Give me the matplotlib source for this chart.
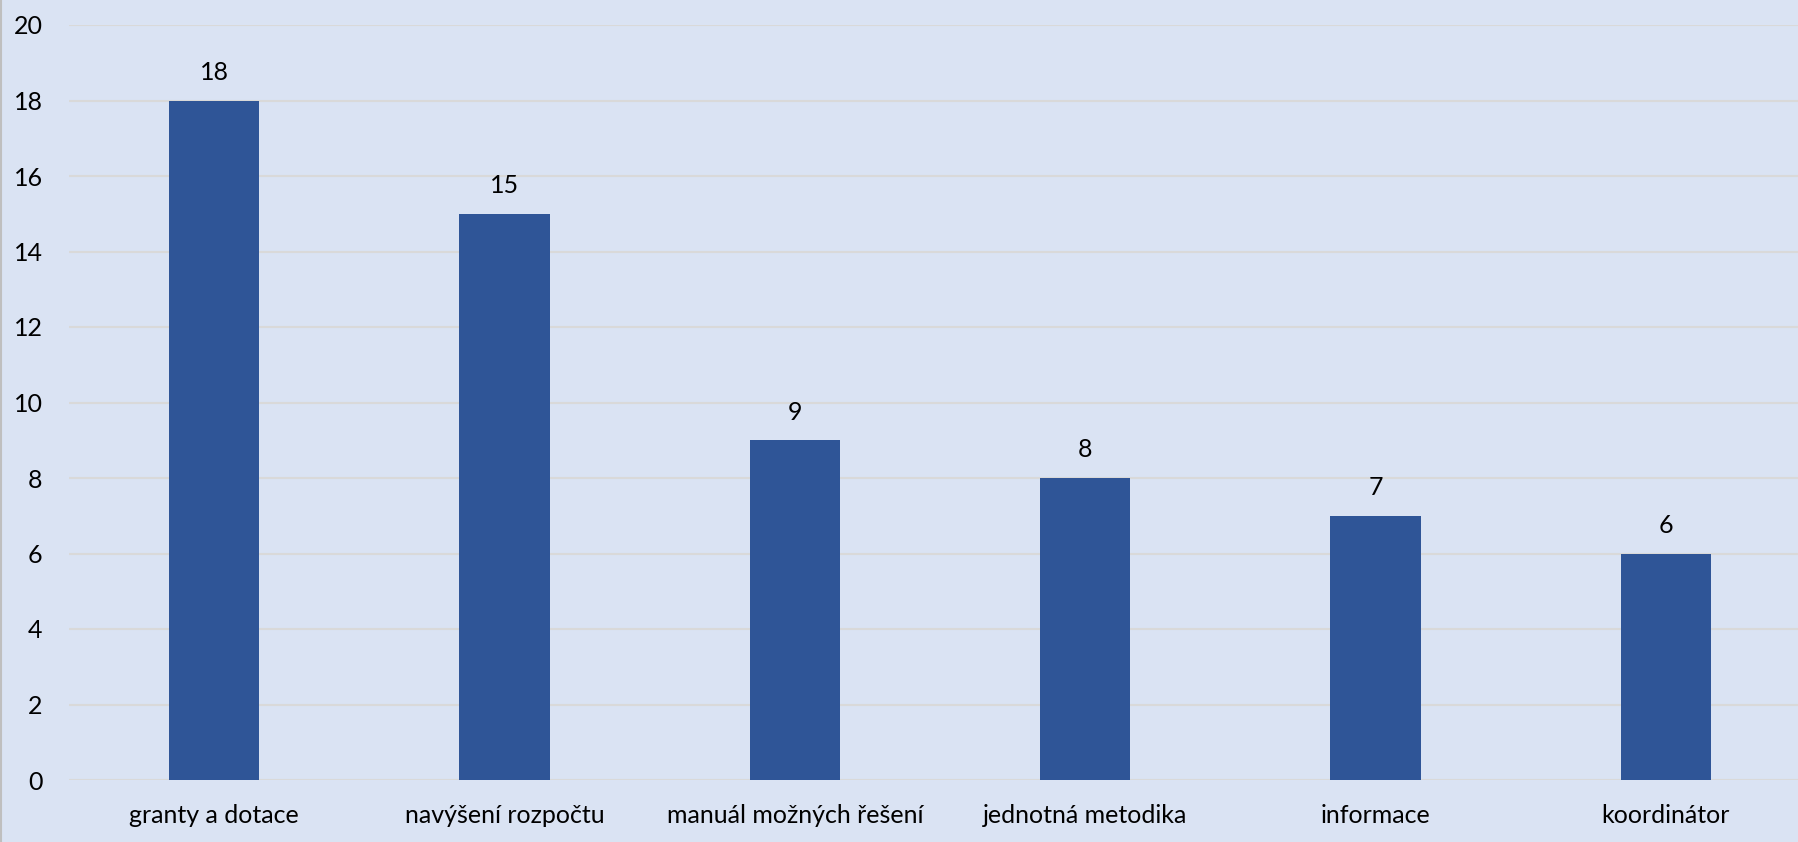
import matplotlib
matplotlib.use("Agg")
import matplotlib.pyplot as plt
from matplotlib.lines import Line2D

categories = ["granty a dotace", "navýšení rozpočtu", "manuál možných řešení",
              "jednotná metodika", "informace", "koordinátor"]
values = [18, 15, 9, 8, 7, 6]
y_ticks = [0, 2, 4, 6, 8, 10, 12, 14, 16, 18, 20]

BG = "#DAE3F3"
BAR = "#2F5597"
GRID = "#D9D9D9"
W, H = 1798, 842

plt.rcParams["font.family"] = ["Lato", "DejaVu Sans"]

fig = plt.figure(figsize=(W / 100, H / 100), dpi=100, facecolor=BG)
# plot area runs past the right edge of the picture, as in the source
left, right, top, bottom = 69, 1811, 25, 780
ax = fig.add_axes([left / W, 1 - bottom / H, (right - left) / W, (bottom - top) / H])
ax.set_facecolor(BG)

x = list(range(len(categories)))
bars = ax.bar(x, values, width=0.312, color=BAR, zorder=3)
for b, v in zip(bars, values):
    ax.annotate(str(v), (b.get_x() + b.get_width() / 2, v), xytext=(0, 12),
                textcoords="offset points", ha="center", va="bottom",
                fontsize=18, color="#000000")

ax.set_xlim(-0.5, len(categories) - 0.5)
ax.set_ylim(0, 20)
ax.set_yticks(y_ticks)
ax.set_xticks(x)
ax.set_xticklabels(categories)
ax.yaxis.grid(True, color=GRID, linewidth=1.5, zorder=0)
ax.tick_params(axis="both", length=0, labelsize=18, colors="#000000")
ax.tick_params(axis="y", pad=19)
ax.tick_params(axis="x", pad=17)
for s in ax.spines.values():
    s.set_visible(False)

fig.add_artist(Line2D([1 / W, 1 / W], [0, 1], color="#BFBFBF", linewidth=1.5,
                      transform=fig.transFigure))

fig.savefig("out.png", dpi=100, facecolor=BG)
